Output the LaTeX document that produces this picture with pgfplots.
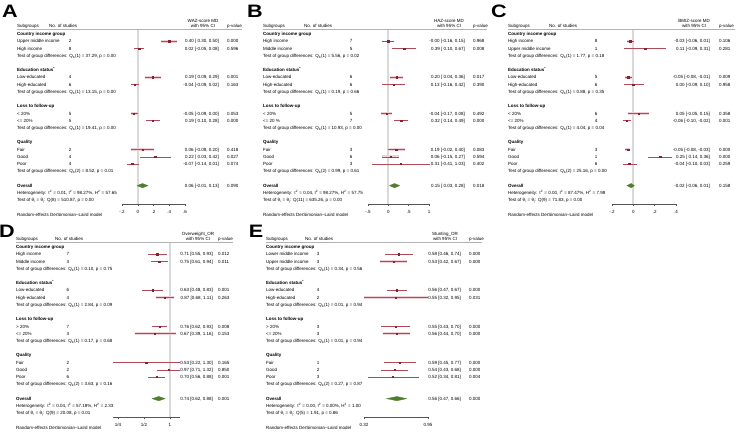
\documentclass[border=0pt]{standalone}
\usepackage{fontspec}
\setmainfont{Liberation Sans}
\usepackage{pgfplots}
\pgfplotsset{compat=1.18}
\definecolor{cilcol}{HTML}{B04A5A}
\definecolor{mkcol}{HTML}{8A1F30}
\definecolor{bandcol}{HTML}{F0D2D6}
\definecolor{diacol}{HTML}{4F7F2C}
\definecolor{reflcol}{HTML}{D9D9D9}
\definecolor{axcol}{HTML}{555555}
\newcommand{\tf}{\fontsize{4.5}{5}\selectfont}
\pgfplotsset{forest/.style={scale only axis, anchor=south west, height=174.7pt, y dir=reverse, ymin=-0.6, ymax=23.6,
  axis x line=bottom, axis y line=none, x axis line style={-, draw=axcol, line width=0.4pt},
  xtick style={draw=axcol, line width=0.4pt}, tick align=outside, major tick length=2pt,
  ticklabel style={font=\tf, text=black}, clip=false, ytick=\empty},
  frefline/.style={draw=reflcol, line width=1.8pt, forget plot},
  fbnd/.style={fill=bandcol, draw=none, mark=none},
  fci/.style={draw=cilcol, line width=0.5pt, mark=none},
  fmk/.style={only marks, mark=square*, mark size=0.7pt, mark options={draw=mkcol, fill=mkcol}},
  fdmd/.style={fill=diacol, draw=diacol, line width=0.3pt, mark=none}}
\tikzset{t/.style={font=\tf, inner sep=0pt, text height=3.2pt, text depth=0pt, anchor=west},
  te/.style={t, anchor=east}, tc/.style={t, anchor=center}, tb/.style={t, font=\tf\bfseries}}
\newcommand{\setcols}[6]{\def\cs{#1}\def\cn{#2}\def\cv{#3}\def\ce{#4}\def\cp{#5}\def\cm{#6}}
\newcommand{\R}[5]{\node[t] at (\cs,#1) {#2};\node[tc] at (\cv,#1) {#3};\node[te] at (\ce,#1) {#4};\node[t] at (\cp,#1) {#5};}
\newcommand{\hdr}[2]{\node[tc] at (\cm,-1.84) {#1};\node[t] at (\cs,-1.18) {Subgroups};\node[t] at (\cn,-1.18) {No. of studies};\node[tc] at (\cm,-1.18) {with 95\% CI};\node[t] at (\cp,-1.18) {p-value};\draw[gray!60, line width=0.3pt] (\cs,-0.65) -- (#2,-0.65);}
\newcommand{\tg}[3]{Test of group differences: Q\textsubscript{b}(#1) = #2, p = #3}
\newcommand{\het}[3]{Heterogeneity: τ\textsuperscript{2} = #1, I\textsuperscript{2} = #2\%, H\textsuperscript{2} = #3}
\newcommand{\tth}[3]{Test of θ\textsubscript{i} = θ\textsubscript{j}: Q(#1) = #2, p = #3}
\newcommand{\panellabel}[3]{\node[font=\fontsize{18}{18}\selectfont\bfseries, inner sep=0pt] at (#1,#2) {\scalebox{1.2}[1]{#3}};}
\begin{document}
\begin{tikzpicture}[x=1pt,y=1pt]
\path[use as bounding box] (0,0) rectangle (738,-432);
\panellabel{10}{-11}{A}\panellabel{255}{-11}{B}\panellabel{499}{-11}{C}\panellabel{7}{-231}{D}\panellabel{256}{-231}{E}

% ---------------- Panel A
\begin{scope}[shift={(0,-34)}, y=-7.22pt]
\setcols{17}{49}{70}{219}{227}{203}
\hdr{WAZ-score MD}{242}
\node[tb] at (\cs,0) {Country income group};
\R{1}{Upper middle income}{2}{0.40 [ 0.30, 0.50]}{0.000}
\R{2}{High income}{8}{0.02 [-0.05, 0.08]}{0.596}
\node[t] at (\cs,3) {\tg{1}{37.29}{0.00}};
\node[tb] at (\cs,5) {Education status\textsuperscript{*}};
\R{6}{Low-educated}{4}{0.19 [ 0.09, 0.29]}{0.001}
\R{7}{High-educated}{6}{-0.04 [-0.09, 0.02]}{0.163}
\node[t] at (\cs,8) {\tg{1}{13.15}{0.00}};
\node[tb] at (\cs,10) {Loss to follow-up};
\R{11}{< 20\%}{5}{-0.05 [-0.09, 0.00]}{0.053}
\R{12}{<= 20\%}{5}{0.19 [ 0.10, 0.28]}{0.000}
\node[t] at (\cs,13) {\tg{1}{19.41}{0.00}};
\node[tb] at (\cs,15) {Quality};
\R{16}{Fair}{2}{0.06 [-0.08, 0.20]}{0.418}
\R{17}{Good}{4}{0.22 [ 0.03, 0.42]}{0.027}
\R{18}{Poor}{4}{-0.07 [-0.14, 0.01]}{0.074}
\node[t] at (\cs,19) {\tg{2}{8.52}{0.01}};
\node[tb] at (\cs,21) {Overall};
\node[te] at (\ce,21) {0.06 [-0.01, 0.13]};\node[t] at (\cp,21) {0.090};
\node[t] at (\cs,22) {\het{0.01}{98.27}{57.65}};
\node[t] at (\cs,23) {\tth{8}{510.87}{0.00}};
\node[t] at (\cs,25.07) {Random-effects DerSimonian–Laird model};
\end{scope}

% ---------------- Panel B
\begin{scope}[shift={(0,-34)}, y=-7.22pt]
\setcols{263}{304}{351}{465}{473}{449}
\hdr{HAZ-score MD}{487}
\node[tb] at (\cs,0) {Country income group};
\R{1}{High income}{7}{-0.00 [-0.16, 0.15]}{0.968}
\R{2}{Middle income}{5}{0.39 [ 0.10, 0.67]}{0.008}
\node[t] at (\cs,3) {\tg{1}{5.56}{0.02}};
\node[tb] at (\cs,5) {Education status\textsuperscript{*}};
\R{6}{Low-educated}{6}{0.20 [ 0.04, 0.36]}{0.017}
\R{7}{High-educated}{6}{0.13 [-0.16, 0.42]}{0.390}
\node[t] at (\cs,8) {\tg{1}{0.19}{0.66}};
\node[tb] at (\cs,10) {Loss to follow-up};
\R{11}{< 20\%}{5}{-0.04 [-0.17, 0.08]}{0.492}
\R{12}{<= 20 \%}{7}{0.32 [ 0.14, 0.49]}{0.000}
\node[t] at (\cs,13) {\tg{1}{10.93}{0.00}};
\node[tb] at (\cs,15) {Quality};
\R{16}{Fair}{3}{0.19 [-0.02, 0.40]}{0.083}
\R{17}{Good}{6}{0.06 [-0.15, 0.27]}{0.594}
\R{18}{Poor}{3}{0.31 [-0.41, 1.03]}{0.402}
\node[t] at (\cs,19) {\tg{2}{0.99}{0.61}};
\node[tb] at (\cs,21) {Overall};
\node[te] at (\ce,21) {0.15 [ 0.03, 0.28]};\node[t] at (\cp,21) {0.018};
\node[t] at (\cs,22) {\het{0.04}{98.27}{57.75}};
\node[t] at (\cs,23) {\tth{11}{635.26}{0.00}};
\node[t] at (\cs,25.07) {Random-effects DerSimonian–Laird model};
\end{scope}

% ---------------- Panel C
\begin{scope}[shift={(0,-34)}, y=-7.22pt]
\setcols{508}{549}{596}{710}{719}{694}
\hdr{BMIZ-score MD}{735}
\node[tb] at (\cs,0) {Country income group};
\R{1}{High income}{8}{-0.03 [-0.06, 0.01]}{0.106}
\R{2}{Upper middle income}{1}{0.11 [-0.09, 0.31]}{0.281}
\node[t] at (\cs,3) {\tg{1}{1.77}{0.18}};
\node[tb] at (\cs,5) {Education status\textsuperscript{*}};
\R{6}{Low-educated}{5}{-0.05 [-0.08, -0.01]}{0.009}
\R{7}{High-educated}{6}{0.00 [-0.09, 0.10]}{0.958}
\node[t] at (\cs,8) {\tg{1}{0.88}{0.35}};
\node[tb] at (\cs,10) {Loss to follow-up};
\R{11}{< 20\%}{6}{0.05 [-0.05, 0.15]}{0.358}
\R{12}{<= 20\%}{4}{-0.06 [-0.10, -0.02]}{0.001}
\node[t] at (\cs,13) {\tg{1}{4.04}{0.04}};
\node[tb] at (\cs,15) {Quality};
\R{16}{Fair}{3}{-0.05 [-0.08, -0.03]}{0.000}
\R{17}{Good}{1}{0.25 [ 0.14, 0.36]}{0.000}
\R{18}{Poor}{6}{-0.04 [-0.10, 0.03]}{0.259}
\node[t] at (\cs,19) {\tg{2}{25.16}{0.00}};
\node[tb] at (\cs,21) {Overall};
\node[te] at (\ce,21) {-0.02 [-0.06, 0.01]};\node[t] at (\cp,21) {0.158};
\node[t] at (\cs,22) {\het{0.00}{87.47}{7.98}};
\node[t] at (\cs,23) {\tth{9}{71.83}{0.00}};
\node[t] at (\cs,25.07) {Random-effects DerSimonian–Laird model};
\end{scope}

% ---------------- Panel D
\begin{scope}[shift={(0,-247)}, y=-7.22pt]
\setcols{16}{55}{68}{213}{218}{198}
\hdr{Overweight\_OR}{233}
\node[tb] at (\cs,0) {Country income group};
\R{1}{High income}{7}{0.71 [0.55, 0.93]}{0.012}
\R{2}{Middle income}{3}{0.75 [0.61, 0.94]}{0.011}
\node[t] at (\cs,3) {\tg{1}{0.10}{0.75}};
\node[tb] at (\cs,5) {Education status\textsuperscript{*}};
\R{6}{Low-educated}{6}{0.63 [0.48, 0.83]}{0.001}
\R{7}{High-educated}{4}{0.87 [0.68, 1.11]}{0.263}
\node[t] at (\cs,8) {\tg{1}{2.84}{0.09}};
\node[tb] at (\cs,10) {Loss to follow-up};
\R{11}{> 20\%}{7}{0.76 [0.62, 0.93]}{0.008}
\R{12}{<= 20\%}{3}{0.67 [0.39, 1.16]}{0.153}
\node[t] at (\cs,13) {\tg{1}{0.17}{0.68}};
\node[tb] at (\cs,15) {Quality};
\R{16}{Fair}{2}{0.53 [0.22, 1.30]}{0.165}
\R{17}{Good}{2}{0.97 [0.71, 1.32]}{0.850}
\R{18}{Poor}{6}{0.70 [0.56, 0.88]}{0.001}
\node[t] at (\cs,19) {\tg{2}{3.63}{0.16}};
\node[tb] at (\cs,21) {Overall};
\node[te] at (\ce,21) {0.74 [0.62, 0.88]};\node[t] at (\cp,21) {0.001};
\node[t] at (\cs,22) {\het{0.04}{57.18}{2.33}};
\node[t] at (\cs,23) {\tth{9}{20.08}{0.01}};
\node[t] at (\cs,25.07) {Random-effects DerSimonian–Laird model};
\end{scope}

% ---------------- Panel E
\begin{scope}[shift={(0,-247)}, y=-7.22pt]
\setcols{266}{305}{318}{461}{469}{445}
\hdr{Stunting\_OR}{482}
\node[tb] at (\cs,0) {Country income group};
\R{1}{Lower middle income}{3}{0.58 [0.46, 0.74]}{0.000}
\R{2}{Upper middle income}{3}{0.53 [0.42, 0.67]}{0.000}
\node[t] at (\cs,3) {\tg{1}{0.34}{0.56}};
\node[tb] at (\cs,5) {Education status\textsuperscript{*}};
\R{6}{Low-educated}{4}{0.56 [0.47, 0.67]}{0.000}
\R{7}{High-educated}{2}{0.55 [0.32, 0.95]}{0.031}
\node[t] at (\cs,8) {\tg{1}{0.01}{0.94}};
\node[tb] at (\cs,10) {Loss to follow-up};
\R{11}{> 20\%}{3}{0.55 [0.43, 0.70]}{0.000}
\R{12}{<= 20\%}{3}{0.56 [0.44, 0.70]}{0.000}
\node[t] at (\cs,13) {\tg{1}{0.01}{0.94}};
\node[tb] at (\cs,15) {Quality};
\R{16}{Fair}{1}{0.59 [0.45, 0.77]}{0.000}
\R{17}{Good}{2}{0.54 [0.43, 0.68]}{0.000}
\R{18}{Poor}{3}{0.52 [0.34, 0.81]}{0.004}
\node[t] at (\cs,19) {\tg{2}{0.27}{0.87}};
\node[tb] at (\cs,21) {Overall};
\node[te] at (\ce,21) {0.56 [0.47, 0.66]};\node[t] at (\cp,21) {0.000};
\node[t] at (\cs,22) {\het{0.00}{0.00}{1.00}};
\node[t] at (\cs,23) {\tth{5}{1.91}{0.86}};
\node[t] at (\cs,25.07) {Random-effects DerSimonian–Laird model};
\end{scope}

% ================= Axes
% A
\begin{axis}[forest, at={(122pt,-204.4pt)}, width=63pt, xmin=-0.2, xmax=0.6,
  xtick={-0.2,0,0.2,0.4,0.6}, xticklabels={-.2,0,.2,.4,.6}]
\addplot[frefline] coordinates {(0,-0.6) (0,23.6)};
\addplot[fbnd] coordinates {(0.30,0.78) (0.50,0.78) (0.50,1.22) (0.30,1.22)} --cycle;
\addplot[fbnd] coordinates {(0.09,5.78) (0.29,5.78) (0.29,6.22) (0.09,6.22)} --cycle;
\addplot[fbnd] coordinates {(-0.09,10.78) (0.00,10.78) (0.00,11.22) (-0.09,11.22)} --cycle;
\addplot[fbnd] coordinates {(-0.08,15.78) (0.20,15.78) (0.20,16.22) (-0.08,16.22)} --cycle;
\addplot[fci] coordinates {(0.30,1) (0.50,1)};
\addplot[fci] coordinates {(-0.05,2) (0.08,2)};
\addplot[fci] coordinates {(0.09,6) (0.29,6)};
\addplot[fci] coordinates {(-0.09,7) (0.02,7)};
\addplot[fci] coordinates {(-0.09,11) (0.00,11)};
\addplot[fci] coordinates {(0.10,12) (0.28,12)};
\addplot[fci] coordinates {(-0.08,16) (0.20,16)};
\addplot[fci] coordinates {(0.03,17) (0.42,17)};
\addplot[fci] coordinates {(-0.14,18) (0.01,18)};
\addplot[fmk] coordinates {(0.40,1) (0.02,2) (0.19,6) (-0.04,7) (-0.05,11) (0.19,12) (0.06,16) (0.22,17) (-0.07,18)};
\addplot[fdmd] coordinates {(-0.01,21) (0.06,20.7) (0.13,21) (0.06,21.3)} --cycle;
\end{axis}
% B
\begin{axis}[forest, at={(368pt,-204.4pt)}, width=61pt, xmin=-0.5, xmax=1,
  xtick={-0.5,0,0.5,1}, xticklabels={-.5,0,.5,1}]
\addplot[frefline] coordinates {(0,-0.6) (0,23.6)};
\addplot[fbnd] coordinates {(0.04,5.78) (0.36,5.78) (0.36,6.22) (0.04,6.22)} --cycle;
\addplot[fbnd] coordinates {(-0.17,10.78) (0.08,10.78) (0.08,11.22) (-0.17,11.22)} --cycle;
\addplot[fbnd] coordinates {(-0.02,15.78) (0.40,15.78) (0.40,16.22) (-0.02,16.22)} --cycle;
\addplot[fbnd] coordinates {(-0.15,16.78) (0.27,16.78) (0.27,17.22) (-0.15,17.22)} --cycle;
\addplot[fci] coordinates {(-0.16,1) (0.15,1)};
\addplot[fci] coordinates {(0.10,2) (0.67,2)};
\addplot[fci] coordinates {(0.04,6) (0.36,6)};
\addplot[fci] coordinates {(-0.16,7) (0.42,7)};
\addplot[fci] coordinates {(-0.17,11) (0.08,11)};
\addplot[fci] coordinates {(0.14,12) (0.49,12)};
\addplot[fci] coordinates {(-0.02,16) (0.40,16)};
\addplot[fci] coordinates {(-0.15,17) (0.27,17)};
\addplot[fci] coordinates {(-0.41,18) (1.03,18)};
\addplot[fmk] coordinates {(-0.00,1) (0.39,2) (0.20,6) (0.13,7) (-0.04,11) (0.32,12) (0.19,16) (0.06,17) (0.31,18)};
\addplot[fdmd] coordinates {(0.03,21) (0.15,20.7) (0.28,21) (0.15,21.3)} --cycle;
\end{axis}
% C
\begin{axis}[forest, at={(612pt,-204.4pt)}, width=64pt, xmin=-0.2, xmax=0.4,
  xtick={-0.2,0,0.2,0.4}, xticklabels={-.2,0,.2,.4}]
\addplot[frefline] coordinates {(0,-0.6) (0,23.6)};
\addplot[fbnd] coordinates {(-0.06,0.78) (0.01,0.78) (0.01,1.22) (-0.06,1.22)} --cycle;
\addplot[fbnd] coordinates {(-0.08,5.78) (-0.01,5.78) (-0.01,6.22) (-0.08,6.22)} --cycle;
\addplot[fbnd] coordinates {(-0.05,10.78) (0.15,10.78) (0.15,11.22) (-0.05,11.22)} --cycle;
\addplot[fbnd] coordinates {(-0.08,15.78) (-0.03,15.78) (-0.03,16.22) (-0.08,16.22)} --cycle;
\addplot[fci] coordinates {(-0.06,1) (0.01,1)};
\addplot[fci] coordinates {(-0.09,2) (0.31,2)};
\addplot[fci] coordinates {(-0.08,6) (-0.01,6)};
\addplot[fci] coordinates {(-0.09,7) (0.10,7)};
\addplot[fci] coordinates {(-0.05,11) (0.15,11)};
\addplot[fci] coordinates {(-0.10,12) (-0.02,12)};
\addplot[fci] coordinates {(-0.08,16) (-0.03,16)};
\addplot[fci] coordinates {(0.14,17) (0.36,17)};
\addplot[fci] coordinates {(-0.10,18) (0.03,18)};
\addplot[fmk] coordinates {(-0.03,1) (0.11,2) (-0.05,6) (0.00,7) (0.05,11) (-0.06,12) (-0.05,16) (0.25,17) (-0.04,18)};
\addplot[fdmd] coordinates {(-0.06,21) (-0.02,20.7) (0.01,21) (-0.02,21.3)} --cycle;
\end{axis}
% D
\begin{axis}[forest, at={(113.2pt,-417.4pt)}, width=66.9pt, xmode=log, log basis x=2, xmin=0.22, xmax=1.31,
  xtick={0.25,0.5,1}, xticklabels={1/4,1/2,1}]
\addplot[frefline] coordinates {(1,-0.6) (1,23.6)};
\addplot[fbnd] coordinates {(0.68,6.78) (1.11,6.78) (1.11,7.22) (0.68,7.22)} --cycle;
\addplot[fbnd] coordinates {(0.39,11.78) (1.16,11.78) (1.16,12.22) (0.39,12.22)} --cycle;
\addplot[fci] coordinates {(0.55,1) (0.93,1)};
\addplot[fci] coordinates {(0.61,2) (0.94,2)};
\addplot[fci] coordinates {(0.48,6) (0.83,6)};
\addplot[fci] coordinates {(0.68,7) (1.11,7)};
\addplot[fci] coordinates {(0.62,11) (0.93,11)};
\addplot[fci] coordinates {(0.39,12) (1.16,12)};
\addplot[fci] coordinates {(0.22,16) (1.30,16)};
\addplot[fci] coordinates {(0.71,17) (1.32,17)};
\addplot[fci] coordinates {(0.56,18) (0.88,18)};
\addplot[fmk] coordinates {(0.71,1) (0.75,2) (0.63,6) (0.87,7) (0.76,11) (0.67,12) (0.53,16) (0.97,17) (0.70,18)};
\addplot[fdmd] coordinates {(0.62,21) (0.74,20.7) (0.88,21) (0.74,21.3)} --cycle;
\end{axis}
% E
\begin{axis}[forest, at={(364pt,-417.4pt)}, width=64pt, xmode=log, xmin=0.32, xmax=0.95,
  xtick={0.32,0.95}, xticklabels={0.32,0.95}]
\addplot[fbnd] coordinates {(0.42,1.78) (0.67,1.78) (0.67,2.22) (0.42,2.22)} --cycle;
\addplot[fbnd] coordinates {(0.32,6.78) (0.95,6.78) (0.95,7.22) (0.32,7.22)} --cycle;
\addplot[fbnd] coordinates {(0.44,11.78) (0.70,11.78) (0.70,12.22) (0.44,12.22)} --cycle;
\addplot[fci] coordinates {(0.46,1) (0.74,1)};
\addplot[fci] coordinates {(0.42,2) (0.67,2)};
\addplot[fci] coordinates {(0.47,6) (0.67,6)};
\addplot[fci] coordinates {(0.32,7) (0.95,7)};
\addplot[fci] coordinates {(0.43,11) (0.70,11)};
\addplot[fci] coordinates {(0.44,12) (0.70,12)};
\addplot[fci] coordinates {(0.45,16) (0.77,16)};
\addplot[fci] coordinates {(0.43,17) (0.68,17)};
\addplot[fci] coordinates {(0.34,18) (0.81,18)};
\addplot[fmk] coordinates {(0.58,1) (0.53,2) (0.56,6) (0.55,7) (0.55,11) (0.56,12) (0.59,16) (0.54,17) (0.52,18)};
\addplot[fdmd] coordinates {(0.47,21) (0.56,20.7) (0.66,21) (0.56,21.3)} --cycle;
\end{axis}
\end{tikzpicture}
\end{document}
